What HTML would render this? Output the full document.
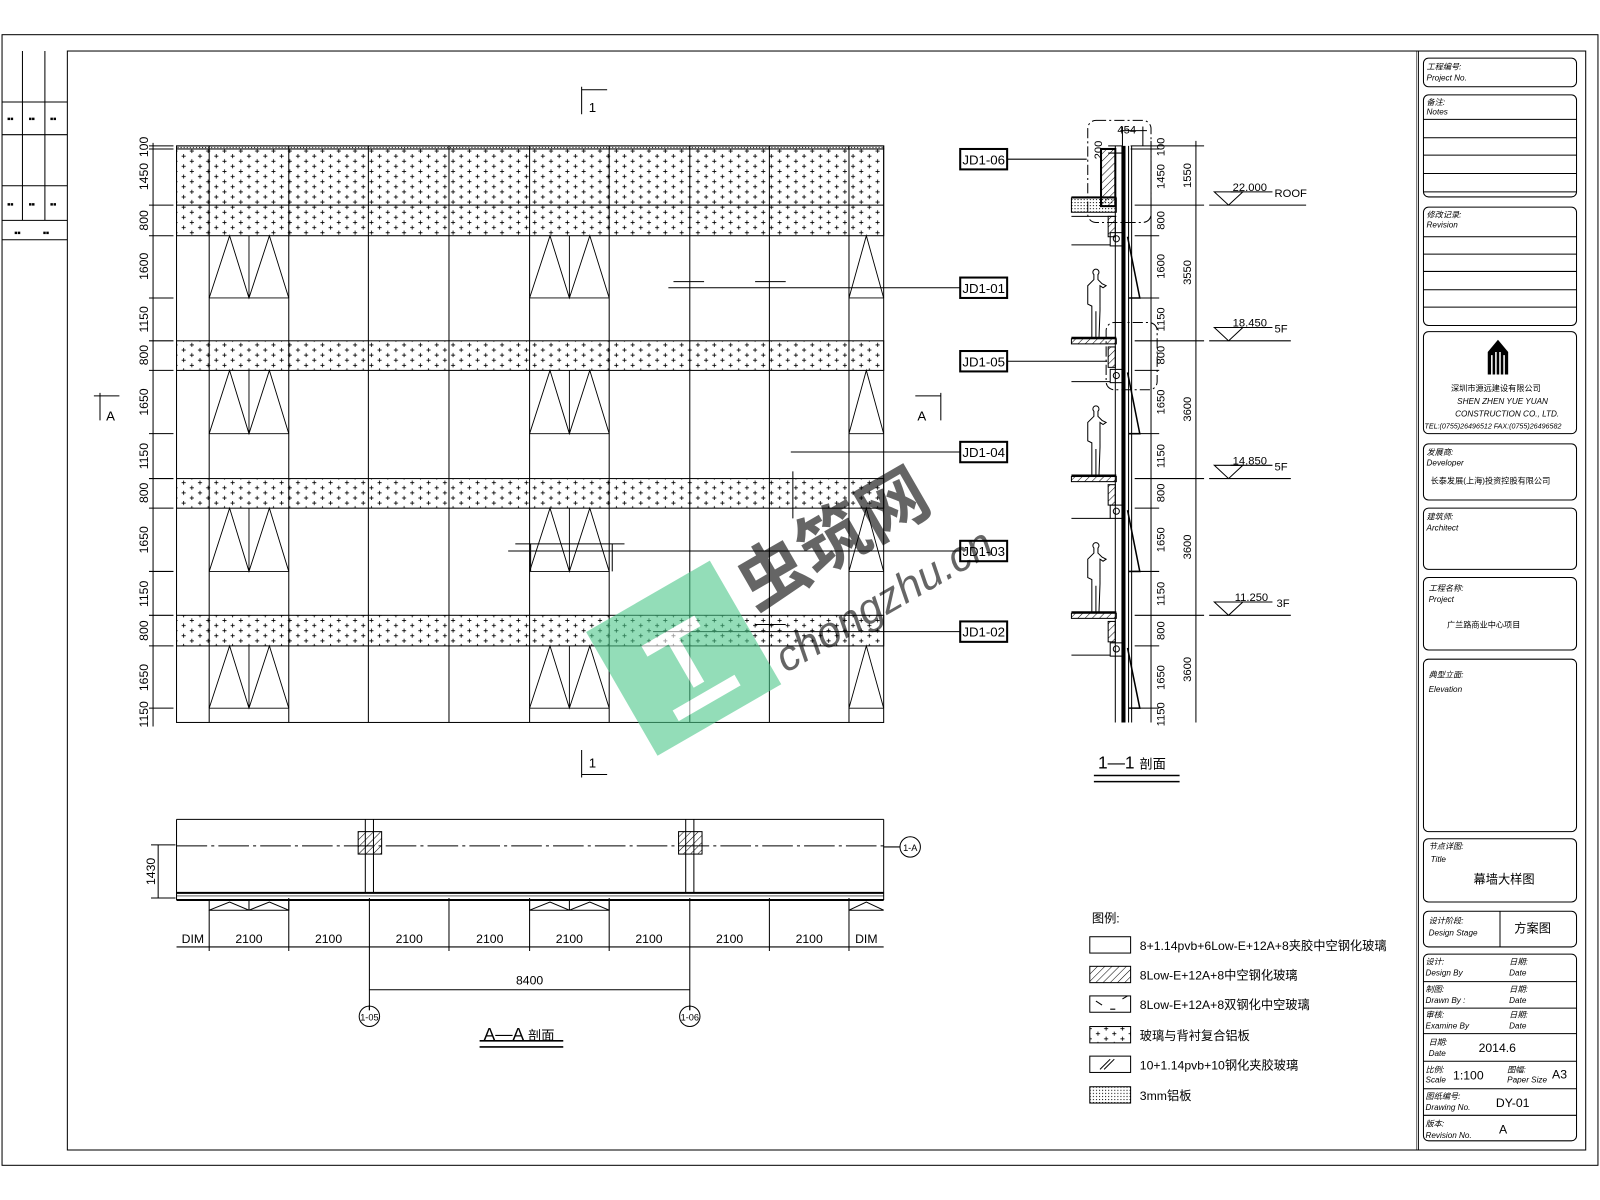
<!DOCTYPE html>
<html><head><meta charset="utf-8"><style>
html,body{margin:0;padding:0;background:#fff}
svg{display:block}
text{font-family:"Liberation Sans","Noto Sans CJK SC",sans-serif;fill:#000}
</style></head><body>
<svg width="1600" height="1200" viewBox="0 0 1568 1176" preserveAspectRatio="none" xmlns="http://www.w3.org/2000/svg">
<defs>
<pattern id="cross" width="16" height="10" patternUnits="userSpaceOnUse">
<path d="M2 3h4M4 1v4M10 8h4M12 6v4" stroke="#000" stroke-width="0.8"/>
</pattern>
<pattern id="dots" width="3" height="3" patternUnits="userSpaceOnUse"><rect width="1" height="1" fill="#000"/></pattern>
<pattern id="hatch" width="5" height="5" patternUnits="userSpaceOnUse" patternTransform="rotate(45)"><path d="M0 0v5" stroke="#000" stroke-width="1"/></pattern>
</defs>
<rect width="1568" height="1176" fill="#fff"/>
<g fill="none" stroke="#000" stroke-width="1">
<rect x="2" y="34" width="1564" height="1108"/>
<rect x="66" y="50" width="1488" height="1077"/>
<line x1="1390" y1="50" x2="1390" y2="1127"/>
<line x1="1388" y1="50" x2="1388" y2="1127" stroke-width="0.5"/>
<path d="M22 50V216M44 50V216M2 100H66M2 132H66M2 182H66M2 216H66M2 235H66"/>
</g>
<g font-size="5">
<text x="7" y="118">■■</text><text x="28" y="118">■■</text><text x="49" y="118">■■</text>
<text x="7" y="202">■■</text><text x="28" y="202">■■</text><text x="49" y="202">■■</text>
<text x="14" y="230">■■</text><text x="42" y="230">■■</text>
</g>

<!-- ELEVATION -->
<rect x="173" y="143" width="693" height="3" fill="url(#dots)" stroke="#000"/>
<g fill="url(#cross)" stroke="#000" stroke-width="1">
<rect x="173" y="146" width="693" height="85"/>
<rect x="173" y="334" width="693" height="29"/>
<rect x="173" y="469" width="693" height="29"/>
<rect x="173" y="603" width="693" height="30"/>
</g>
<g fill="none" stroke="#000" stroke-width="1">
<rect x="173" y="143" width="693" height="565"/>
<line x1="173" y1="201" x2="866" y2="201"/>
<path d="M205 143V708M283 143V708M361 143V708M440 143V708M519 143V708M597 143V708M676 143V708M754 143V708M832 143V708"/>
<g stroke-width="0.9">
<path d="M205 292L225 231L244 292L264 231L283 292M244 231V292M205 292H283"/>
<path d="M205 425L225 363L244 425L264 363L283 425M244 363V425M205 425H283"/>
<path d="M205 560L225 498L244 560L264 498L283 560M244 498V560M205 560H283"/>
<path d="M205 694L225 633L244 694L264 633L283 694M244 633V694M205 694H283"/>
<path d="M519 292L539 231L558 292L578 231L597 292M558 231V292M519 292H597"/>
<path d="M519 425L539 363L558 425L578 363L597 425M558 363V425M519 425H597"/>
<path d="M519 560L539 498L558 560L578 498L597 560M558 498V560M519 560H597"/>
<path d="M519 694L539 633L558 694L578 633L597 694M558 633V694M519 694H597"/>
<path d="M832 292L849 231L866 292M832 292H866"/>
<path d="M832 425L849 363L866 425M832 425H866"/>
<path d="M832 560L849 498L866 560M832 560H866"/>
<path d="M832 694L849 633L866 694M832 694H866"/>
</g>
<path d="M150 140V712"/>
<path d="M146 143H170M146 146H170M146 201H170M146 231H170M146 292H170M146 334H170M146 363H170M146 425H170M146 469H170M146 498H170M146 560H170M146 603H170M146 633H170M146 694H170"/>
<path d="M570 85V112M570 88H595M570 735V762M570 759H595M98 385V412M92 388H117M922 385V412M897 388H922"/>
<path d="M655 282H941M660 276H690M740 276H770M775 443H941M777 462V508M498 540H941M505 533H612M520 533V560M600 533V560M640 619H941M740 612H770M987 156H1065M987 354H1085"/>
</g>
<g font-size="13">
<text x="577" y="110">1</text><text x="577" y="752">1</text>
<text x="104" y="412">A</text><text x="899" y="412">A</text>
</g>
<g font-size="12">
<text transform="translate(145,144) rotate(-90)" text-anchor="middle">100</text>
<text transform="translate(145,173) rotate(-90)" text-anchor="middle">1450</text>
<text transform="translate(145,216) rotate(-90)" text-anchor="middle">800</text>
<text transform="translate(145,261) rotate(-90)" text-anchor="middle">1600</text>
<text transform="translate(145,313) rotate(-90)" text-anchor="middle">1150</text>
<text transform="translate(145,348) rotate(-90)" text-anchor="middle">800</text>
<text transform="translate(145,394) rotate(-90)" text-anchor="middle">1650</text>
<text transform="translate(145,447) rotate(-90)" text-anchor="middle">1150</text>
<text transform="translate(145,483) rotate(-90)" text-anchor="middle">800</text>
<text transform="translate(145,529) rotate(-90)" text-anchor="middle">1650</text>
<text transform="translate(145,582) rotate(-90)" text-anchor="middle">1150</text>
<text transform="translate(145,618) rotate(-90)" text-anchor="middle">800</text>
<text transform="translate(145,664) rotate(-90)" text-anchor="middle">1650</text>
<text transform="translate(145,700) rotate(-90)" text-anchor="middle">1150</text>
</g>
<g fill="#fff" stroke="#000" stroke-width="2">
<rect x="941" y="146" width="46" height="20"/><rect x="941" y="272" width="46" height="20"/>
<rect x="941" y="344" width="46" height="20"/><rect x="941" y="433" width="46" height="20"/>
<rect x="941" y="530" width="46" height="20"/><rect x="941" y="609" width="46" height="20"/>
</g>
<g font-size="13" text-anchor="middle">
<text x="964" y="161">JD1-06</text><text x="964" y="287">JD1-01</text><text x="964" y="359">JD1-05</text>
<text x="964" y="448">JD1-04</text><text x="964" y="545">JD1-03</text><text x="964" y="624">JD1-02</text>
</g>

<!-- SECTION 1-1 -->
<g fill="none" stroke="#000" stroke-width="1">
<rect x="1066" y="118" width="62" height="100" rx="8" stroke-dasharray="10,3,2,3"/>
<rect x="1084" y="316" width="50" height="66" rx="8" stroke-dasharray="10,3,2,3"/>
<path d="M1093 143V708M1106 143V708M1109 143V708"/>
<path d="M1101 143V708" stroke-width="4"/>
<rect x="1079" y="146" width="14" height="56" fill="url(#hatch)" stroke-width="2"/>
<rect x="1050" y="194" width="44" height="14" fill="url(#dots)"/>
<path d="M1050 193H1094M1050 212H1094"/>
<rect x="1050" y="332" width="44" height="5" fill="url(#hatch)"/>
<rect x="1050" y="467" width="44" height="5" fill="url(#hatch)"/>
<rect x="1050" y="601" width="44" height="5" fill="url(#hatch)"/>
<path d="M1050 331H1094M1050 466H1094M1050 600H1094" stroke-width="2"/>
<rect x="1086" y="212" width="7" height="20" fill="url(#hatch)"/>
<rect x="1086" y="340" width="7" height="20" fill="url(#hatch)"/>
<rect x="1086" y="475" width="7" height="20" fill="url(#hatch)"/>
<rect x="1086" y="609" width="7" height="20" fill="url(#hatch)"/>
<rect x="1088" y="228" width="12" height="13"/><circle cx="1094" cy="234" r="3"/>
<rect x="1088" y="362" width="12" height="13"/><circle cx="1094" cy="368" r="3"/>
<rect x="1088" y="495" width="12" height="13"/><circle cx="1094" cy="501" r="3"/>
<rect x="1088" y="630" width="12" height="13"/><circle cx="1094" cy="636" r="3"/>
<path d="M1050 240H1088M1050 374H1088M1050 508H1088M1050 642H1088"/>
<path d="M1105 232L1117 292H1106M1105 365L1117 425H1106M1105 500L1117 560H1106M1105 635L1117 694H1106" stroke-width="1.5"/>
<path d="M1070 331V300l-4 -2v-18l6 -6v-5a3 3 0 1 1 4 0v5l4 4 4 2l-3 2-3-2v24l-1 28M1074 331V305"/>
<path d="M1070 466V434l-4 -2v-18l6 -6v-5a3 3 0 1 1 4 0v5l4 4 4 2l-3 2-3-2v24l-1 28M1074 466V440"/>
<path d="M1070 600V568l-4 -2v-18l6 -6v-5a3 3 0 1 1 4 0v5l4 4 4 2l-3 2-3-2v24l-1 28M1074 600V574"/>
<path d="M1128 138V708M1172 138V708"/>
<path d="M1108 143H1180M1108 146H1136M1112 201H1180M1112 231H1136M1112 292H1136M1112 334H1180M1112 363H1136M1112 425H1136M1112 469H1180M1112 498H1136M1112 560H1136M1112 603H1180M1112 633H1136M1112 694H1136M1100 124V143M1120 124V143M1098 128H1124M1086 143H1100M1086 150H1100"/>
<path d="M1185 201H1280M1190 188L1204 201L1218 188ZM1185 334H1265M1190 321L1204 334L1218 321ZM1185 469H1265M1190 456L1204 469L1218 456ZM1185 603H1265M1190 590L1204 603L1218 590Z"/>
<path d="M1206 188H1247M1206 321H1247M1206 456H1247M1206 590H1247"/>
<path d="M1072 760H1156M1072 766H1156" stroke-width="1.5"/>
</g>
<g font-size="11">
<text x="1095" y="131">454</text>
<text transform="translate(1080,147) rotate(-90)" text-anchor="middle">200</text>
<text transform="translate(1141,144) rotate(-90)" text-anchor="middle">100</text>
<text transform="translate(1141,173) rotate(-90)" text-anchor="middle">1450</text>
<text transform="translate(1141,216) rotate(-90)" text-anchor="middle">800</text>
<text transform="translate(1141,261) rotate(-90)" text-anchor="middle">1600</text>
<text transform="translate(1141,313) rotate(-90)" text-anchor="middle">1150</text>
<text transform="translate(1141,348) rotate(-90)" text-anchor="middle">800</text>
<text transform="translate(1141,394) rotate(-90)" text-anchor="middle">1650</text>
<text transform="translate(1141,447) rotate(-90)" text-anchor="middle">1150</text>
<text transform="translate(1141,483) rotate(-90)" text-anchor="middle">800</text>
<text transform="translate(1141,529) rotate(-90)" text-anchor="middle">1650</text>
<text transform="translate(1141,582) rotate(-90)" text-anchor="middle">1150</text>
<text transform="translate(1141,618) rotate(-90)" text-anchor="middle">800</text>
<text transform="translate(1141,664) rotate(-90)" text-anchor="middle">1650</text>
<text transform="translate(1141,700) rotate(-90)" text-anchor="middle">1150</text>
<text transform="translate(1167,172) rotate(-90)" text-anchor="middle">1550</text>
<text transform="translate(1167,267) rotate(-90)" text-anchor="middle">3550</text>
<text transform="translate(1167,401) rotate(-90)" text-anchor="middle">3600</text>
<text transform="translate(1167,536) rotate(-90)" text-anchor="middle">3600</text>
<text transform="translate(1167,656) rotate(-90)" text-anchor="middle">3600</text>
<text x="1208" y="187">22.000</text><text x="1249" y="193">ROOF</text>
<text x="1208" y="320">18.450</text><text x="1249" y="326">5F</text>
<text x="1208" y="455">14.850</text><text x="1249" y="461">5F</text>
<text x="1210" y="589">11.250</text><text x="1251" y="595">3F</text>
</g>
<text x="1076" y="753" font-size="17">1—1 <tspan font-size="13">剖面</tspan></text>

<!-- PLAN A-A -->
<g fill="none" stroke="#000" stroke-width="1">
<path d="M173 803H866M173 803V882M866 803V882"/>
<path d="M173 829H866" stroke-dasharray="30,4,3,4"/>
<path d="M173 875H866M173 882H866" stroke-width="2"/>
<path d="M173 878H866" stroke-width="0.6"/>
<path d="M358 803V875M366 803V875M672 803V875M680 803V875"/>
<rect x="351" y="815" width="23" height="22" fill="url(#hatch)"/>
<rect x="665" y="815" width="23" height="22" fill="url(#hatch)"/>
<path d="M205 882V892H283V882M205 892L225 884L244 892L264 884L283 892M244 882V892"/>
<path d="M519 882V892H597V882M519 892L539 884L558 892L578 884L597 892M558 882V892"/>
<path d="M832 882V892H866M832 892L849 884L866 892"/>
<path d="M173 928H866M205 892V932M283 880V932M362 880V990M440 880V932M519 880V932M597 880V932M676 880V990M754 880V932M832 880V932"/>
<path d="M362 970H676M362 990V985M676 990V985"/>
<circle cx="362" cy="996" r="10"/><circle cx="676" cy="996" r="10"/><circle cx="892" cy="830" r="10"/>
<path d="M866 830H882"/>
<path d="M155 828V880M148 828H172M148 880H172"/>
<path d="M470 1020H552M470 1026H552" stroke-width="1.5"/>
</g>
<g font-size="12" text-anchor="middle">
<text x="189" y="924">DIM</text><text x="244" y="924">2100</text><text x="322" y="924">2100</text>
<text x="401" y="924">2100</text><text x="480" y="924">2100</text><text x="558" y="924">2100</text>
<text x="636" y="924">2100</text><text x="715" y="924">2100</text><text x="793" y="924">2100</text>
<text x="849" y="924">DIM</text><text x="519" y="965">8400</text>
<text x="362" y="1000" font-size="9">1-05</text><text x="676" y="1000" font-size="9">1-06</text>
<text x="892" y="834" font-size="9">1-A</text>
<text transform="translate(152,854) rotate(-90)">1430</text>
</g>
<text x="474" y="1019" font-size="17">A—A <tspan font-size="13">剖面</tspan></text>

<!-- LEGEND -->
<g fill="none" stroke="#000" stroke-width="1">
<rect x="1068" y="918" width="40" height="16"/>
<rect x="1068" y="947" width="40" height="16" fill="url(#hatch)"/>
<rect x="1068" y="976" width="40" height="16"/>
<path d="M1074 981l6 4M1100 979l5 -3M1088 989h5"/>
<rect x="1068" y="1006" width="40" height="16" fill="url(#cross)"/>
<rect x="1068" y="1035" width="40" height="16"/>
<path d="M1078 1048l10 -10M1082 1048l10 -10"/>
<rect x="1068" y="1065" width="40" height="16" fill="url(#dots)"/>
</g>
<g font-size="12" fill="#333">
<text x="1070" y="904">图例:</text>
<text x="1117" y="931">8+1.14pvb+6Low-E+12A+8夹胶中空钢化玻璃</text>
<text x="1117" y="960">8Low-E+12A+8中空钢化玻璃</text>
<text x="1117" y="989">8Low-E+12A+8双钢化中空玻璃</text>
<text x="1117" y="1019">玻璃与背衬复合铝板</text>
<text x="1117" y="1048">10+1.14pvb+10钢化夹胶玻璃</text>
<text x="1117" y="1078">3mm铝板</text>
</g>

<!-- WATERMARK -->
<g opacity="0.6">
<rect x="600" y="575" width="140" height="140" fill="#4cc88a" transform="rotate(-30 670 645)"/>
<path d="M640 620h60M670 620v55M635 690h70" stroke="#fff" stroke-width="12" fill="none" transform="rotate(-30 670 645)"/>
<text x="740" y="600" font-size="68" fill="#777" transform="rotate(-30 740 600)" font-weight="bold">虫筑网</text>
<text x="770" y="660" font-size="42" fill="#999" font-style="italic" transform="rotate(-30 770 660)">chongzhu.cn</text>
</g>

<!-- TITLE BLOCK -->
<g fill="none" stroke="#000" stroke-width="1">
<rect x="1395" y="57" width="150" height="28" rx="5"/>
<rect x="1395" y="93" width="150" height="100" rx="5"/>
<path d="M1395 117H1545M1395 135H1545M1395 152H1545M1395 170H1545M1395 188H1545"/>
<rect x="1395" y="203" width="150" height="116" rx="5"/>
<path d="M1395 232H1545M1395 249H1545M1395 266H1545M1395 284H1545M1395 301H1545"/>
<rect x="1395" y="325" width="150" height="100" rx="5"/>
<rect x="1395" y="435" width="150" height="55" rx="5"/>
<rect x="1395" y="498" width="150" height="60" rx="5"/>
<rect x="1395" y="566" width="150" height="71" rx="5"/>
<rect x="1395" y="646" width="150" height="169" rx="5"/>
<rect x="1395" y="822" width="150" height="62" rx="5"/>
<rect x="1395" y="893" width="150" height="35" rx="5"/>
<path d="M1470 893V928"/>
<rect x="1395" y="935" width="150" height="183" rx="5"/>
<path d="M1395 962H1545M1395 988H1545M1395 1013H1545M1395 1040H1545M1395 1067H1545M1395 1093H1545"/>
</g>
<path d="M1468 333l-10 12v22h20v-22z" fill="#000"/>
<path d="M1462 348v19M1466 345v22M1470 345v22M1474 348v19" stroke="#fff" stroke-width="1.5"/>
<g font-size="8" font-style="italic" font-family="Liberation Serif,serif">
<text x="1398" y="68">工程编号:</text><text x="1398" y="79">Project   No.</text>
<text x="1398" y="103">备注:</text><text x="1398" y="112">Notes</text>
<text x="1398" y="213">修改记录:</text><text x="1398" y="223">Revision</text>
<text x="1398" y="446">发展商:</text><text x="1398" y="456">Developer</text>
<text x="1398" y="509">建筑师:</text><text x="1398" y="520">Architect</text>
<text x="1400" y="579">工程名称:</text><text x="1400" y="590">Project</text>
<text x="1400" y="664">典型立面:</text><text x="1400" y="678">Elevation</text>
<text x="1400" y="832">节点详图:</text><text x="1402" y="845">Title</text>
<text x="1400" y="905">设计阶段:</text><text x="1400" y="917">Design Stage</text>
<text x="1397" y="945">设计:</text><text x="1397" y="956">Design By</text>
<text x="1479" y="945">日期:</text><text x="1479" y="956">Date</text>
<text x="1397" y="972">制图:</text><text x="1397" y="983">Drawn By :</text>
<text x="1479" y="972">日期:</text><text x="1479" y="983">Date</text>
<text x="1397" y="997">审核:</text><text x="1397" y="1008">Examine By</text>
<text x="1479" y="997">日期:</text><text x="1479" y="1008">Date</text>
<text x="1400" y="1024">日期:</text><text x="1400" y="1035">Date</text>
<text x="1397" y="1051">比例:</text><text x="1397" y="1061">Scale</text>
<text x="1477" y="1051">图幅:</text><text x="1477" y="1061">Paper Size</text>
<text x="1397" y="1077">图纸编号:</text><text x="1397" y="1088">Drawing No.</text>
<text x="1397" y="1104">版本:</text><text x="1397" y="1115">Revision No.</text>
<text x="1422" y="383" font-style="normal">深圳市源远建设有限公司</text>
<text x="1428" y="396">SHEN ZHEN YUE YUAN</text>
<text x="1426" y="408">CONSTRUCTION CO., LTD.</text>
<text x="1396" y="420" font-size="7">TEL:(0755)26496512 FAX:(0755)26496582</text>
<text x="1402" y="474" font-style="normal">长泰发展(上海)投资控股有限公司</text>
<text x="1418" y="615" font-style="normal">广兰路商业中心项目</text>
</g>
<g font-size="12">
<text x="1444" y="866">幕墙大样图</text>
<text x="1484" y="914">方案图</text>
<text x="1449" y="1031">2014.6</text>
<text x="1424" y="1058">1:100</text>
<text x="1521" y="1057">A3</text>
<text x="1466" y="1085">DY-01</text>
<text x="1469" y="1111">A</text>
</g>
</svg>
</body></html>
